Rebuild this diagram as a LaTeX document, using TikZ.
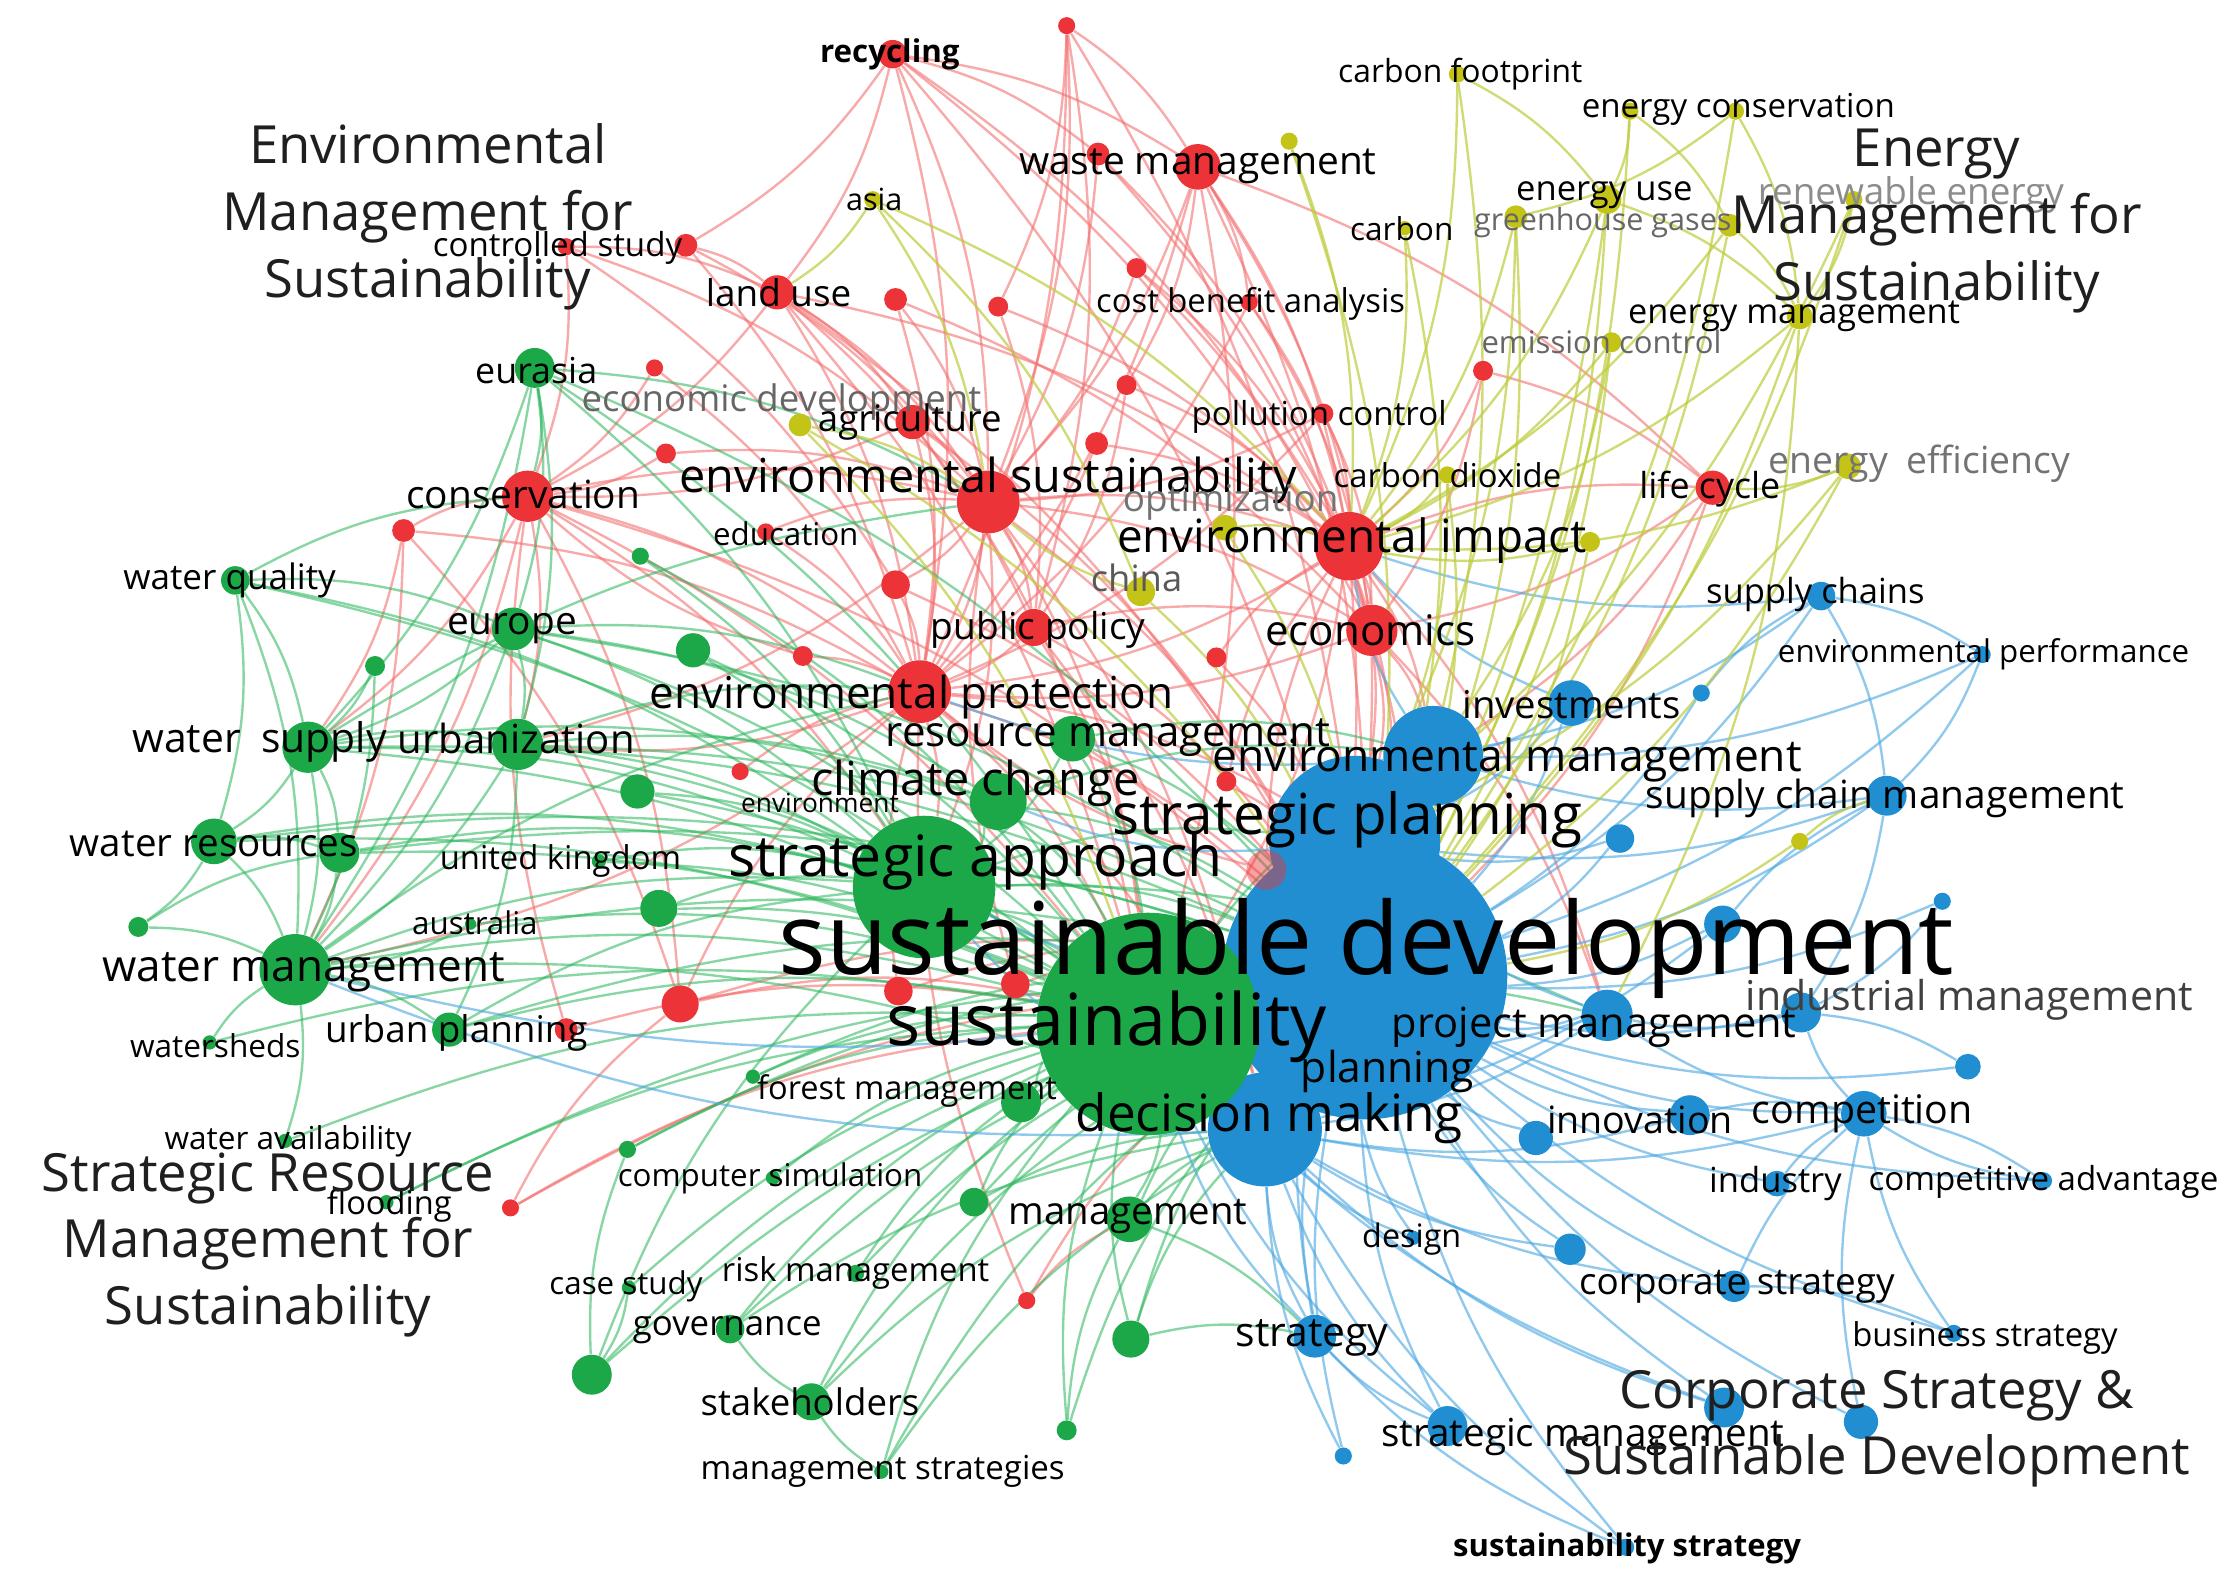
\documentclass[tikz,border=0pt]{standalone}
\usepackage{fontspec}
\setmainfont{Open Sans}
\pgfdeclarelayer{bglayer}
\pgfdeclarelayer{edgelayer}
\pgfsetlayers{bglayer,edgelayer,main}
\definecolor{cR}{RGB}{236,52,56}
\definecolor{cG}{RGB}{28,168,72}
\definecolor{cB}{RGB}{32,142,208}
\definecolor{cY}{RGB}{196,196,24}
\definecolor{eR}{RGB}{244,112,112}
\definecolor{eG}{RGB}{40,182,90}
\definecolor{eB}{RGB}{72,166,226}
\definecolor{eY}{RGB}{190,204,60}
\tikzset{
 bub/.style={circle, inner sep=0pt, draw=none, minimum size=#1*0.04cm},
 lbl/.style={font=\fontsize{#1pt}{#1pt}\selectfont, inner sep=0pt, text=black},
 lblb/.style={font=\fontsize{#1pt}{#1pt}\selectfont\bfseries, inner sep=0pt, text=black},
 ttl/.style={font=\fontsize{21pt}{26.6pt}\selectfont, align=center, inner sep=0pt, text=black!88},
 edR/.style={draw=eR, line width=0.95pt, draw opacity=0.6},
 edG/.style={draw=eG, line width=0.95pt, draw opacity=0.55},
 edB/.style={draw=eB, line width=0.95pt, draw opacity=0.6},
 edY/.style={draw=eY, line width=0.95pt, draw opacity=0.7},
}
\begin{document}
\begin{tikzpicture}[x=0.02cm,y=-0.02cm]
\begin{pgfonlayer}{bglayer}
\fill[white] (0,0) rectangle (1568,1107);
\end{pgfonlayer}
\useasboundingbox (0,0) rectangle (1568,1107);
% ---------- bubbles: red ----------
\node[bub=10,fill=cR] (rec) at (626,38) {};
\node[bub=6,fill=cR] (rtop) at (748,18) {};
\node[bub=16,fill=cR] (waste) at (840,117) {};
\node[bub=8,fill=cR] (rw2) at (770,108) {};
\node[bub=6,fill=cR] (ctl1) at (397,173) {};
\node[bub=8,fill=cR] (ctl2) at (481,172) {};
\node[bub=12,fill=cR] (land) at (545,205) {};
\node[bub=8,fill=cR] (r7) at (628,210) {};
\node[bub=7,fill=cR] (r8) at (700,215) {};
\node[bub=7,fill=cR] (r9) at (797,188) {};
\node[bub=6,fill=cR] (cba) at (876,212) {};
\node[bub=7,fill=cR] (r11) at (790,270) {};
\node[bub=7,fill=cR] (r12) at (1040,260) {};
\node[bub=7,fill=cR] (poll) at (928,290) {};
\node[bub=12,fill=cR] (agri) at (640,296) {};
\node[bub=7,fill=cR] (r15) at (467,318) {};
\node[bub=6,fill=cR] (r16) at (459,258) {};
\node[bub=18,fill=cR] (cons) at (370,348) {};
\node[bub=8,fill=cR] (r18) at (283,372) {};
\node[bub=22,fill=cR] (envsus) at (693,352) {};
\node[bub=8,fill=cR] (r20) at (769,311) {};
\node[bub=6,fill=cR] (edu) at (537,373) {};
\node[bub=24,fill=cR] (envimp) at (946,383) {};
\node[bub=12,fill=cR] (life) at (1201,342) {};
\node[bub=10,fill=cR] (r24) at (628,410) {};
\node[bub=13,fill=cR] (pubpol) at (725,440) {};
\node[bub=18,fill=cR] (econ) at (962,442) {};
\node[bub=7,fill=cR] (r27) at (853,461) {};
\node[bub=7,fill=cR] (r28) at (563,460) {};
\node[bub=22,fill=cR] (envprot) at (645,485) {};
\node[bub=6,fill=cR] (r30) at (519,541) {};
\node[bub=7,fill=cR] (r31) at (860,548) {};
\node[bub=13,fill=cR] (r32) at (477,704) {};
\node[bub=8,fill=cR] (r33) at (397,722) {};
\node[bub=10,fill=cR] (r34) at (630,695) {};
\node[bub=10,fill=cR] (r35) at (712,690) {};
\node[bub=6,fill=cR] (r36) at (358,847) {};
\node[bub=6,fill=cR] (r37) at (720,912) {};
% ---------- bubbles: yellow ----------
\node[bub=6,fill=cY] (cfp) at (1022,52) {};
\node[bub=6,fill=cY] (ec1) at (1143,78) {};
\node[bub=6,fill=cY] (ec2) at (1217,78) {};
\node[bub=6,fill=cY] (y3) at (904,99) {};
\node[bub=6,fill=cY] (asia) at (612,140) {};
\node[bub=10,fill=cY] (euse) at (1127,140) {};
\node[bub=8,fill=cY] (gh1) at (1063,152) {};
\node[bub=8,fill=cY] (gh2) at (1213,158) {};
\node[bub=6,fill=cY] (ren) at (1300,140) {};
\node[bub=5,fill=cY] (carbon) at (985,160) {};
\node[bub=9,fill=cY] (emgt) at (1262,222) {};
\node[bub=7,fill=cY] (emis) at (1130,240) {};
\node[bub=8,fill=cY] (ecodev) at (561,298) {};
\node[bub=6,fill=cY] (co2) at (1015,333) {};
\node[bub=9,fill=cY] (opt) at (859,370) {};
\node[bub=9,fill=cY] (eeff) at (1296,327) {};
\node[bub=7,fill=cY] (yimp) at (1115,380) {};
\node[bub=10,fill=cY] (china) at (800,415) {};
\node[bub=6,fill=cY] (y17) at (1262,590) {};
% ---------- bubbles: blue ----------
\node[bub=60,fill=cB] (sp) at (950,590) {};
\node[bub=35,fill=cB] (envm) at (1005,530) {};
\node[bub=100,fill=cB] (sd) at (957,685) {};
\node[bub=16,fill=cB] (inv) at (1102,493) {};
\node[bub=10,fill=cB] (sc) at (1277,418) {};
\node[bub=6,fill=cB] (envp) at (1390,459) {};
\node[bub=6,fill=cB] (b7) at (1193,486) {};
\node[bub=14,fill=cB] (scm) at (1323,558) {};
\node[bub=10,fill=cB] (b9) at (1136,588) {};
\node[bub=13,fill=cB] (b10) at (1208,648) {};
\node[bub=6,fill=cB] (b11) at (1362,632) {};
\node[bub=14,fill=cB] (indm) at (1263,710) {};
\node[bub=9,fill=cB] (b13) at (1380,748) {};
\node[bub=18,fill=cB] (pm) at (1127,712) {};
\node[bub=22,fill=cB] (plan) at (975,758) {};
\node[bub=40,fill=cB] (dm) at (887,792) {};
\node[bub=14,fill=cB] (innov) at (1185,782) {};
\node[bub=12,fill=cB] (b17) at (1077,798) {};
\node[bub=16,fill=cB] (comp) at (1307,781) {};
\node[bub=9,fill=cB] (indu) at (1246,830) {};
\node[bub=6,fill=cB] (cadv) at (1433,828) {};
\node[bub=11,fill=cB] (b21) at (1101,876) {};
\node[bub=11,fill=cB] (cstr) at (1216,902) {};
\node[bub=6,fill=cB] (bstr) at (1370,935) {};
\node[bub=15,fill=cB] (strat) at (922,937) {};
\node[bub=14,fill=cB] (b25) at (1209,987) {};
\node[bub=12,fill=cB] (b26) at (1305,997) {};
\node[bub=14,fill=cB] (smgmt) at (1015,1000) {};
\node[bub=6,fill=cB] (b27) at (942,1021) {};
\node[bub=6,fill=cB] (sstr) at (1140,1085) {};
\node[bub=5,fill=cB] (design) at (991,868) {};
\node[bub=14,fill=cR,fill opacity=0.45] (r39) at (888,610) {};
% ---------- bubbles: green ----------
\node[bub=14,fill=cG] (eura) at (375,258) {};
\node[bub=10,fill=cG] (wq) at (165,407) {};
\node[bub=6,fill=cG] (g3) at (449,390) {};
\node[bub=15,fill=cG] (eur) at (360,441) {};
\node[bub=12,fill=cG] (g5) at (486,456) {};
\node[bub=7,fill=cG] (g6) at (263,467) {};
\node[bub=18,fill=cG] (ws) at (216,524) {};
\node[bub=18,fill=cG] (urb) at (363,522) {};
\node[bub=16,fill=cG] (resm) at (752,518) {};
\node[bub=20,fill=cG] (clim) at (700,562) {};
\node[bub=12,fill=cG] (g11) at (447,555) {};
\node[bub=16,fill=cG] (wr1) at (150,590) {};
\node[bub=14,fill=cG] (wr2) at (238,598) {};
\node[bub=50,fill=cG] (strap) at (648,622) {};
\node[bub=5,fill=cG] (uk) at (420,604) {};
\node[bub=13,fill=cG] (g15) at (462,637) {};
\node[bub=7,fill=cG] (g16) at (97,650) {};
\node[bub=4,fill=cG] (aus) at (330,648) {};
\node[bub=25,fill=cG] (wm) at (207,680) {};
\node[bub=78,fill=cG] (sust) at (805,718) {};
\node[bub=12,fill=cG] (upl) at (315,722) {};
\node[bub=5,fill=cG] (wsh) at (147,731) {};
\node[bub=5,fill=cG] (forest) at (528,755) {};
\node[bub=14,fill=cG] (g23) at (716,773) {};
\node[bub=5,fill=cG] (wav) at (200,800) {};
\node[bub=6,fill=cG] (csim) at (440,806) {};
\node[bub=5,fill=cG] (g25) at (542,826) {};
\node[bub=5,fill=cG] (flood) at (271,843) {};
\node[bub=10,fill=cG] (g27) at (683,843) {};
\node[bub=16,fill=cG] (mgmt) at (792,855) {};
\node[bub=6,fill=cG] (risk) at (600,893) {};
\node[bub=5,fill=cG] (case) at (441,903) {};
\node[bub=10,fill=cG] (gov) at (512,932) {};
\node[bub=14,fill=cG] (g32) at (415,964) {};
\node[bub=13,fill=cG] (g33) at (793,939) {};
\node[bub=13,fill=cG] (stake) at (569,983) {};
\node[bub=7,fill=cG] (g35) at (748,1003) {};
\node[bub=5,fill=cG] (mstr) at (618,1032) {};
% ---------- edges ----------
\begin{pgfonlayer}{edgelayer}
\foreach \a/\b in {rec/waste,rec/land,rec/envsus,rec/envimp,rec/ctl2,rec/envprot,rec/rw2,rec/econ,rtop/waste,rtop/envsus,rtop/envprot,rtop/pubpol,rtop/r8,waste/envimp,waste/econ,waste/envsus,waste/cba,waste/sd,waste/life,waste/envprot,waste/r11,rw2/envimp,rw2/envsus,rw2/econ,ctl1/cons,ctl1/envsus,ctl1/land,ctl1/r24,ctl2/land,ctl2/envprot,ctl2/envsus,land/agri,land/envsus,land/cons,land/envprot,land/pubpol,land/envimp,land/sust,r7/envsus,r7/envprot,r7/econ,r8/envimp,r8/pubpol,r9/envimp,r9/econ,r9/envsus,cba/envimp,cba/econ,cba/envprot,r11/envimp,r11/pubpol,r12/life,r12/envimp,r12/econ,poll/envimp,poll/envsus,poll/econ,poll/envprot,agri/envsus,agri/cons,agri/envprot,agri/sust,r15/cons,r15/envsus,r16/cons,r16/envprot,cons/envsus,cons/envprot,cons/sust,cons/strap,cons/sd,cons/r32,r18/cons,r18/envprot,r18/r32,envsus/envimp,envsus/envprot,envsus/econ,envsus/sd,envsus/sust,envsus/pubpol,envsus/strap,envsus/r24,r20/envimp,r20/envprot,edu/envsus,edu/envprot,envimp/econ,envimp/sd,envimp/envprot,envimp/life,envimp/sust,envimp/sp,envimp/envm,life/econ,life/sd,life/envm,r24/envprot,r24/sd,pubpol/envprot,pubpol/sd,pubpol/econ,pubpol/sust,econ/sd,econ/envm,econ/envprot,econ/sp,r27/envimp,r27/sd,r28/envprot,r28/cons,envprot/sd,envprot/sust,envprot/strap,envprot/sp,r30/envprot,r31/sd,r31/envimp,r32/envprot,r32/sust,r32/sd,r33/cons,r33/sust,r34/envprot,r34/sd,r35/envsus,r35/sd,r36/sust,r36/sd,r36/r32,r37/mgmt,r37/envprot,r37/sd,r39/envimp,r39/envprot,cons/wm,cons/ws,cons/urb,envprot/wm,envprot/urb,envsus/urb,envimp/dm,econ/dm,econ/pm,envimp/pm,envsus/dm,pubpol/dm,envprot/dm,waste/sust,rec/sd,rtop/sd,land/sd,agri/sd,r18/wm,r18/ws}
  \draw[edR] (\a) to[bend left=12] (\b);
\foreach \a/\b in {eura/eur,eura/cons,eura/ws,eura/urb,eura/sust,eura/strap,eura/wm,eura/envsus,wq/ws,wq/wm,wq/wr1,wq/sust,wq/strap,wq/eur,g3/strap,g3/sust,eur/ws,eur/urb,eur/wm,eur/sust,eur/strap,eur/sd,eur/clim,g5/sust,g5/strap,g6/ws,g6/wm,ws/urb,ws/wr1,ws/wr2,ws/wm,ws/sust,ws/strap,ws/clim,ws/sd,urb/sust,urb/strap,urb/wm,urb/clim,urb/sd,urb/upl,resm/sust,resm/strap,resm/sd,clim/sust,clim/strap,clim/sd,g11/sust,g11/strap,wr1/wm,wr1/wr2,wr1/sust,wr1/strap,wr1/g16,wr2/wm,wr2/sust,wr2/strap,strap/sust,strap/sd,strap/sp,strap/dm,uk/strap,uk/sust,g15/sust,g15/strap,g16/wm,g16/wr2,aus/wm,aus/sust,wm/sust,wm/strap,wm/sd,wm/upl,wm/wav,wm/dm,sust/sd,sust/dm,sust/mgmt,upl/sust,upl/strap,upl/sd,wsh/sust,wsh/wm,forest/sust,forest/sd,g23/sust,g23/sd,wav/sust,csim/sust,csim/sd,g25/sust,flood/sust,flood/sd,g27/sust,g27/sd,mgmt/sd,mgmt/dm,risk/sust,risk/sd,case/sust,case/g32,gov/sust,gov/sd,g32/sust,g32/csim,g32/strap,g33/sust,g33/sd,g33/dm,stake/sust,stake/sd,stake/gov,g35/sust,g35/mgmt,mstr/sust,mstr/sd,mstr/stake,clim/envm,resm/envm,sust/pm,strap/pm,sust/envm,wm/envprot,ws/envsus,urb/envprot,eur/envprot,wq/cons,g32/sd,stake/dm,gov/dm,mstr/dm,g35/sd,g33/strat,mgmt/strat,g27/dm,eura/sd,wr1/sd,wr2/sd}
  \draw[edG] (\a) to[bend left=12] (\b);
\foreach \a/\b in {sp/sd,envm/sd,inv/sd,inv/envm,inv/sp,sc/sd,sc/scm,sc/envp,sc/envm,envp/scm,envp/sd,b7/sd,b7/sc,scm/sd,scm/sp,scm/indm,b9/sd,b10/sd,b10/scm,b11/sd,b11/indm,indm/sd,indm/b13,b13/sd,pm/sd,pm/sp,plan/sd,dm/sd,dm/sp,innov/sd,innov/comp,b17/sd,comp/sd,comp/indm,comp/cadv,indu/sd,indu/comp,cadv/comp,cadv/sd,b21/sd,b21/dm,cstr/sd,cstr/bstr,cstr/comp,bstr/sd,bstr/comp,strat/sd,strat/dm,strat/sp,b25/sd,b25/dm,b26/sd,b26/comp,smgmt/sd,smgmt/dm,smgmt/strat,b27/sd,b27/dm,sstr/sd,sstr/strat,sstr/dm,design/sd,design/dm,pm/sust,sp/sust,dm/strap,envm/envimp,sd/strap,sd/wm,dm/wm,sp/clim,envm/envprot,pm/dm,comp/dm,innov/dm,cstr/dm,b10/dm,b9/sp,scm/envm,indm/pm,comp/pm,strat/sust,smgmt/sust,b25/sust,sc/envimp,envp/envm,inv/envimp}
  \draw[edB] (\a) to[bend left=12] (\b);
\foreach \a/\b in {cfp/euse,cfp/envimp,cfp/sd,ec1/euse,ec1/gh2,ec1/sd,ec2/gh1,ec2/emgt,ec2/sd,y3/envimp,y3/sd,asia/land,asia/envsus,asia/china,asia/envimp,euse/envimp,euse/sd,euse/emgt,gh1/envimp,gh1/sd,gh2/emgt,gh2/sd,gh2/envimp,ren/emgt,ren/sd,carbon/envimp,carbon/sd,emgt/sd,emgt/envimp,emis/sd,emis/envimp,ecodev/envsus,ecodev/sust,ecodev/sd,co2/envimp,co2/sd,opt/sd,opt/envimp,eeff/life,eeff/sd,eeff/envimp,yimp/sd,yimp/envimp,china/sd,china/envsus,y17/sd,y17/scm,euse/dm,emgt/pm,eeff/sp,co2/sp,gh1/sp,emis/envm,ren/sp}
  \draw[edY] (\a) to[bend left=12] (\b);
\end{pgfonlayer}
% ---------- labels ----------
\node[lblb=12.5] (L-rec) at (624,38) {recycling};
\node[lbl=15.5] (L-waste) at (840,117) {waste management};
\node[lbl=12.2] (L-asia) at (613,140) {asia};
\node[lbl=14.7] (L-land) at (546,205) {land use};
\node[lbl=13.2] (L-ctl) at (391,174) {controlled study};
\node[lbl=13.1] (L-cba) at (877,213) {cost benefit analysis};
\node[lbl=12.7] (L-cfp) at (1024,52) {carbon footprint};
\node[lbl=13.2] (L-ec) at (1219,77) {energy conservation};
\node[lbl=13.8] (L-euse) at (1125,137) {energy use};
\node[lbl=14.7,text=black!45] (L-ren) at (1340,137) {renewable energy};
\node[lbl=12.2,text=black!60] (L-gh) at (1124,156) {greenhouse gases};
\node[lbl=12.6] (L-carbon) at (983,160) {carbon};
\node[lbl=13.7] (L-emgt) at (1258,222) {energy management};
\node[lbl=12.4,text=black!60] (L-emis) at (1123,240) {emission control};
\node[lbl=14.3] (L-eura) at (376,260) {eurasia};
\node[lbl=14.6,text=black!60] (L-ecodev) at (548,282) {economic development};
\node[lbl=14.6] (L-agri) at (638,296) {agriculture};
\node[lbl=13.2] (L-poll) at (925,292) {pollution control};
\node[lbl=18.7] (L-envsus) at (693,337) {environmental sustainability};
\node[lbl=13.1] (L-co2) at (1015,333) {carbon dioxide};
\node[lbl=14.7,text=black!55] (L-opt) at (863,352) {optimization};
\node[lbl=14.9,text=black!55] (L-eeff) at (1346,325) {energy\hspace{0.5em}efficiency};
\node[lbl=14.3] (L-life) at (1199,343) {life cycle};
\node[lbl=15.5] (L-cons) at (367,347) {conservation};
\node[lbl=12.5] (L-edu) at (551,374) {education};
\node[lbl=18.3] (L-envimp) at (948,379) {environmental impact};
\node[lbl=14.5,text=black!65] (L-china) at (797,405) {china};
\node[lbl=14] (L-wq) at (161,407) {water quality};
\node[lbl=13.8] (L-sc) at (1273,417) {supply chains};
\node[lbl=15.5] (L-eur) at (359,441) {europe};
\node[lbl=14.8] (L-pubpol) at (728,442) {public policy};
\node[lbl=16.8] (L-econ) at (961,442) {economics};
\node[lbl=12.5] (L-envp) at (1391,459) {environmental performance};
\node[lbl=17.6] (L-envprot) at (639,489) {environmental protection};
\node[lbl=15.3] (L-inv) at (1102,494) {investments};
\node[lbl=16.3] (L-ws) at (182,520) {water\hspace{0.5em}supply};
\node[lbl=16] (L-urb) at (362,518) {urbanization};
\node[lbl=16.8] (L-resm) at (777,517) {resource management};
\node[lbl=17.7] (L-envm) at (1057,533) {environmental management};
\node[lbl=18.7] (L-clim) at (684,549) {climate change};
\node[lbl=15.5] (L-scm) at (1322,560) {supply chain management};
\node[lbl=10.5] (L-env) at (575,563) {environment};
\node[lbl=22.6] (L-sp) at (945,575) {strategic planning};
\node[lbl=15.4] (L-wr) at (150,592) {water resources};
\node[lbl=13.1] (L-uk) at (393,604) {united kingdom};
\node[lbl=22.8] (L-strap) at (684,604) {strategic approach};
\node[lbl=12.5] (L-aus) at (333,647) {australia};
\node[lbl=40] (L-sd) at (958,665) {sustainable development};
\node[lbl=17.6] (L-wm) at (213,682) {water management};
\node[lbl=16.4,text=black!75] (L-indm) at (1381,701) {industrial management};
\node[lbl=28.7] (L-sust) at (776,720) {sustainability};
\node[lbl=16.6] (L-pm) at (1118,720) {project management};
\node[lbl=12.6] (L-wsh) at (151,733) {watersheds};
\node[lbl=14.7] (L-upl) at (320,724) {urban planning};
\node[lbl=17] (L-plan) at (973,751) {planning};
\node[lbl=13] (L-forest) at (636,765) {forest management};
\node[lbl=20.5] (L-dm) at (890,784) {decision making};
\node[lbl=15] (L-innov) at (1150,785) {innovation};
\node[lbl=15.7] (L-comp) at (1306,781) {competition};
\node[lbl=12.6] (L-wav) at (202,800) {water availability};
\node[lbl=12.5] (L-csim) at (540,826) {computer simulation};
\node[lbl=13.8] (L-indu) at (1245,830) {industry};
\node[lbl=13.2] (L-cadv) at (1433,829) {competitive advantage};
\node[lbl=13] (L-flood) at (273,846) {flooding};
\node[lbl=15.3] (L-mgmt) at (791,853) {management};
\node[lbl=12.9] (L-design) at (990,869) {design};
\node[lbl=13.1] (L-risk) at (600,893) {risk management};
\node[lbl=12.5] (L-case) at (439,902) {case study};
\node[lbl=14.7] (L-cstr) at (1218,902) {corporate strategy};
\node[lbl=13.9] (L-gov) at (510,933) {governance};
\node[lbl=16.3] (L-strat) at (920,938) {strategy};
\node[lbl=13.1] (L-bstr) at (1392,938) {business strategy};
\node[lbl=14.6] (L-stake) at (568,983) {stakeholders};
\node[lbl=15.4] (L-smgmt) at (1110,1008) {strategic management};
\node[lbl=13.2] (L-mstr) at (619,1032) {management strategies};
\node[lblb=12.4] (L-sstr) at (1141,1086) {sustainability strategy};
% ---------- cluster titles ----------
\node[ttl] (T-env) at (300,152) {Environmental\\Management for\\Sustainability};
\node[ttl] (T-energy) at (1358,155) {Energy\\Management for\\Sustainability};
\node[ttl] (T-res) at (188,873) {Strategic Resource\\Management for\\Sustainability};
\node[ttl] (T-corp) at (1316,1002) {Corporate Strategy \&\\Sustainable Development};
\end{tikzpicture}
\end{document}
